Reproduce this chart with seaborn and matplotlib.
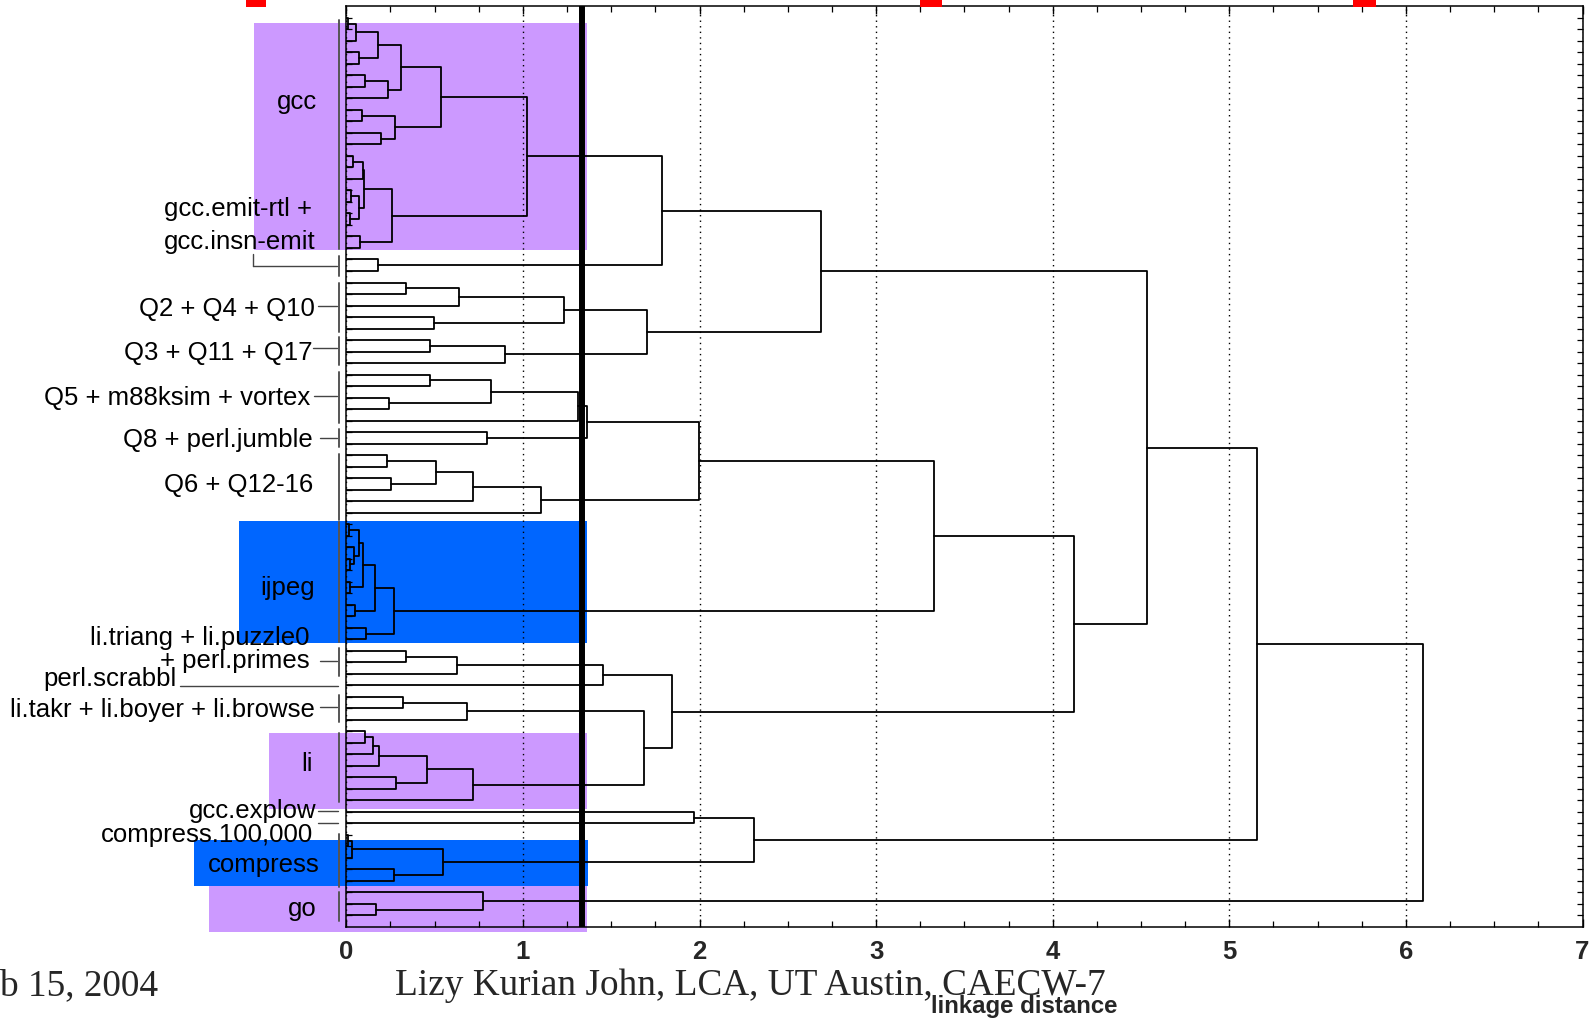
import numpy as np
import pandas as pd
import matplotlib
matplotlib.use("Agg")
import matplotlib.pyplot as plt
import seaborn as sns
from matplotlib.patches import Rectangle
from matplotlib.ticker import AutoMinorLocator, FixedLocator, NullFormatter
from matplotlib import font_manager

# ---------------- data ----------------
# leaves are numbered 1..79 from top to bottom of the dendrogram
link_id = ["g1", "g2", "g3", "g4", "g5", "g6", "g7", "g8", "g9", "g10", "g11",
           "h1", "h2", "h3", "h4", "h5", "h6", "h7", "h8", "gcc", "u22", "A",
           "q1", "q2", "q3", "Q2", "r1", "Q3", "QQ", "B",
           "s1", "s2", "s3", "Q5", "Q8", "Q58", "t1", "t2", "t3", "t4", "Q6", "C",
           "i1", "i2", "i3", "i4", "i5", "i6", "i7", "i8", "i9", "IJ", "D",
           "p1", "p2", "P", "k1", "K", "l1", "l2", "l3", "l4", "l5", "L", "KL", "PKL",
           "E", "F", "X", "c1", "c2", "c3", "CM", "XC", "G", "o1", "GO", "root"]
link_left = [1, "g1", 4, "g2", 6, "g5", "g4", 9, 11, "g8", "g7",
             13, "h1", 16, 18, "h3", "h2", 20, "h6", "g11", 22, "gcc",
             24, "q1", 27, "q2", 29, "r1", "Q2", "A",
             32, 34, "s1", "s3", 37, "Q5", 39, 41, "t1", "t3", "t4", "Q58",
             45, 48, 47, "i1", 50, "i4", 52, "i6", 54, "i8", "C",
             56, "p1", "p2", 60, "k1", 63, "l1", "l2", 67, "l3", "l5", "K", "P",
             "D", "B", 70, 72, "c1", 75, "c2", "X", "F", 78, 77, "G"]
link_right = [2, 3, 5, "g3", 7, 8, "g6", 10, 12, "g9", "g10",
              14, 15, 17, 19, "h4", "h5", 21, "h7", "h8", 23, "u22",
              25, 26, 28, "q3", 30, 31, "Q3", "QQ",
              33, 35, "s2", 36, 38, "Q8", 40, 42, "t2", 43, 44, "Q6",
              46, 49, "i2", "i3", 51, "i5", 53, "i7", 55, "i9", "IJ",
              57, 58, 59, 61, 62, 64, 65, 66, 68, "l4", 69, "L", "KL",
              "PKL", "E", 71, 73, 74, 76, "c3", "CM", "XC", 79, "o1", "GO"]
link_height = [0.010, 0.057, 0.074, 0.181, 0.106, 0.238, 0.308, 0.089, 0.198, 0.277, 0.538,
               0.040, 0.095, 0.027, 0.021, 0.072, 0.102, 0.078, 0.260, 1.025, 0.178, 1.785,
               0.338, 0.638, 0.497, 1.233, 0.474, 0.899, 1.705, 2.690,
               0.474, 0.240, 0.819, 1.310, 0.795, 1.361, 0.229, 0.251, 0.506, 0.719, 1.100, 1.999,
               0.015, 0.021, 0.045, 0.074, 0.021, 0.093, 0.049, 0.163, 0.112, 0.270, 3.330,
               0.338, 0.629, 1.451, 0.319, 0.682, 0.106, 0.153, 0.185, 0.280, 0.455, 0.719, 1.687, 1.843,
               4.120, 4.535, 1.970, 0.010, 0.031, 0.272, 0.549, 2.310, 5.157, 0.168, 0.776, 6.097]

cut_distance = 1.337
n_leaves = 79

label_text = ["gcc", "gcc.emit-rtl +", "gcc.insn-emit", "Q2 + Q4 + Q10", "Q3 + Q11 + Q17",
              "Q5 + m88ksim + vortex", "Q8 + perl.jumble", "Q6 + Q12-16", "ijpeg",
              "li.triang + li.puzzle0", "+ perl.primes", "perl.scrabbl",
              "li.takr + li.boyer + li.browse", "li", "gcc.explow", "compress.100,000",
              "compress", "go"]
label_y = [8.0, 17.35, 20.2, 26.0, 29.8, 33.7, 37.4, 41.3, 50.2, 54.6, 56.6, 58.15,
           60.85, 65.55, 69.6, 71.7, 74.3, 78.1]
label_x = [-0.166, -0.194, -0.172, -0.177, -0.194, -0.206, -0.189, -0.189, -0.18,
           -0.206, -0.206, -0.959, -0.177, -0.189, -0.166, -0.189, -0.149, -0.166]

x_ticks = [0, 1, 2, 3, 4, 5, 6, 7]

# ---------------- geometry of the dendrogram ----------------
pos, hgt = {}, {}
for i in range(1, n_leaves + 1):
    pos[i], hgt[i] = float(i), 0.0
rows = []
for k, (nid, a, b, h) in enumerate(zip(link_id, link_left, link_right, link_height)):
    ya, yb = pos[a], pos[b]
    xs = [hgt[a], h, h, hgt[b]]
    ys = [ya, ya, yb, yb]
    for j, (xx, yy) in enumerate(zip(xs, ys)):
        rows.append({"seg": k, "order": j, "x": xx, "y": yy})
    pos[nid] = (ya + yb) / 2.0
    hgt[nid] = h
seg_df = pd.DataFrame(rows)

# ---------------- styling ----------------
sns.set_style("ticks")
names = {f.name for f in font_manager.fontManager.ttflist}
narrow = "Liberation Sans Narrow" if "Liberation Sans Narrow" in names else "Liberation Sans"
is_narrow = narrow == "Liberation Sans Narrow"
plt.rcParams["font.family"] = ["Liberation Sans", "DejaVu Sans"]

W, H = 1596, 1020
fig = plt.figure(figsize=(W / 100, H / 100), dpi=100)
fig.patch.set_facecolor("white")
ax = fig.add_axes([346.3 / W, 1 - 928 / H, (1582.5 - 346.3) / W, (928 - 7.3) / H])
ax.set_facecolor("white")

PURPLE = "#CC99FF"
BLUE = "#0066FF"
shades = [(-0.523, 1.363, 1.45, 21.2, PURPLE),
          (-0.608, 1.363, 44.7, 55.3, BLUE),
          (-0.438, 1.363, 63.15, 69.75, PURPLE),
          (-0.862, 1.369, 72.4, 76.4, BLUE),
          (-0.777, 1.363, 76.4, 80.4, PURPLE)]
for x0, x1, y0, y1, c in shades:
    ax.add_patch(Rectangle((x0, y0), x1 - x0, y1 - y0, facecolor=c, edgecolor="none",
                           zorder=0.5, clip_on=False))

sns.lineplot(data=seg_df, x="x", y="y", units="seg", estimator=None, sort=False,
             color="black", linewidth=1.3, ax=ax, legend=False, zorder=3)

ax.axvline(cut_distance, color="black", linewidth=4.3, zorder=4)

ax.set_xlim(0, 7)
ax.set_ylim(n_leaves + 1, 0)
ax.set_xlabel("")
ax.set_ylabel("")

tick_size = 21 if is_narrow else 18.5
ax.xaxis.set_major_locator(FixedLocator(x_ticks))
ax.xaxis.set_minor_locator(AutoMinorLocator(4))
ax.yaxis.set_major_locator(FixedLocator(list(range(1, n_leaves + 1))))
ax.yaxis.set_major_formatter(NullFormatter())
ax.tick_params(axis="x", which="major", direction="in", top=True, bottom=True,
               length=6, width=1.0, color="black", pad=9, labelsize=tick_size)
ax.tick_params(axis="x", which="minor", direction="in", top=True, bottom=True,
               length=4, width=0.9, color="black")
ax.tick_params(axis="y", which="major", direction="in", left=True, right=True,
               length=4, width=0.9, color="black")
for lab in ax.get_xticklabels():
    lab.set_fontweight("bold")
    lab.set_fontfamily([narrow, "DejaVu Sans"])
for sp in ax.spines.values():
    sp.set_color("black")
    sp.set_linewidth(1.1)
    sp.set_zorder(5)

ax.xaxis.grid(True, which="major", linestyle=(0, (1, 3)), color="black", linewidth=1.0)
ax.set_axisbelow("line")

# ---------------- annotations left of the axis ----------------
for t, y, x in zip(label_text, label_y, label_x):
    ax.text(x, y, t, ha="right", va="center_baseline", fontsize=18.5, color="black",
            clip_on=False, zorder=6)

bracket_x = -0.041
brackets = [(1.19, 21.09), (21.7, 23.4), (24.0, 28.3), (28.7, 31.2), (31.8, 36.2),
            (36.7, 38.3), (38.9, 44.6), (44.8, 55.2), (55.8, 58.2), (59.8, 62.2),
            (63.1, 69.1), (71.9, 76.5), (77.0, 79.5)]
for y0, y1 in brackets:
    ax.plot([bracket_x, bracket_x], [y0, y1], color="#555555", lw=1.4,
            clip_on=False, zorder=6)

leaders = [(-0.528, -0.053, 22.57), (-0.160, -0.053, 26.04), (-0.189, -0.053, 29.69),
           (-0.183, -0.053, 33.84), (-0.149, -0.053, 37.51), (-0.149, -0.053, 56.89),
           (-0.942, -0.047, 59.06), (-0.149, -0.053, 60.89), (-0.160, -0.047, 69.92),
           (-0.160, -0.047, 70.97)]
for x0, x1, y in leaders:
    ax.plot([x0, x1], [y, y], color="#444444", lw=1.0, clip_on=False, zorder=6)
ax.plot([-0.528, -0.528], [21.52, 22.57], color="#444444", lw=1.0, clip_on=False, zorder=6)

# ---------------- slide texts ----------------
fig.text(0 / W, 1 - 995 / H, "b 15, 2004", fontsize=26.8, family="Liberation Serif",
         ha="left", va="baseline")
fig.text(395 / W, 1 - 995 / H, "Lizy Kurian John, LCA, UT Austin, CAECW-7", fontsize=26.8,
         family="Liberation Serif", ha="left", va="baseline")
fig.text(1024 / W, 1 - 1007 / H, "linkage distance", fontsize=20 if is_narrow else 17.3,
         fontweight="bold", family=[narrow, "DejaVu Sans"], ha="center", va="center")

# red fragments of the slide title cut by the top edge
for x0, x1 in [(246, 266), (920, 942), (1353, 1376)]:
    fig.patches.append(Rectangle((x0 / W, 1 - 8 / H), (x1 - x0) / W, 8 / H,
                                 transform=fig.transFigure, facecolor="#FF0000",
                                 edgecolor="none", figure=fig))

fig.savefig("out.png", dpi=100)
